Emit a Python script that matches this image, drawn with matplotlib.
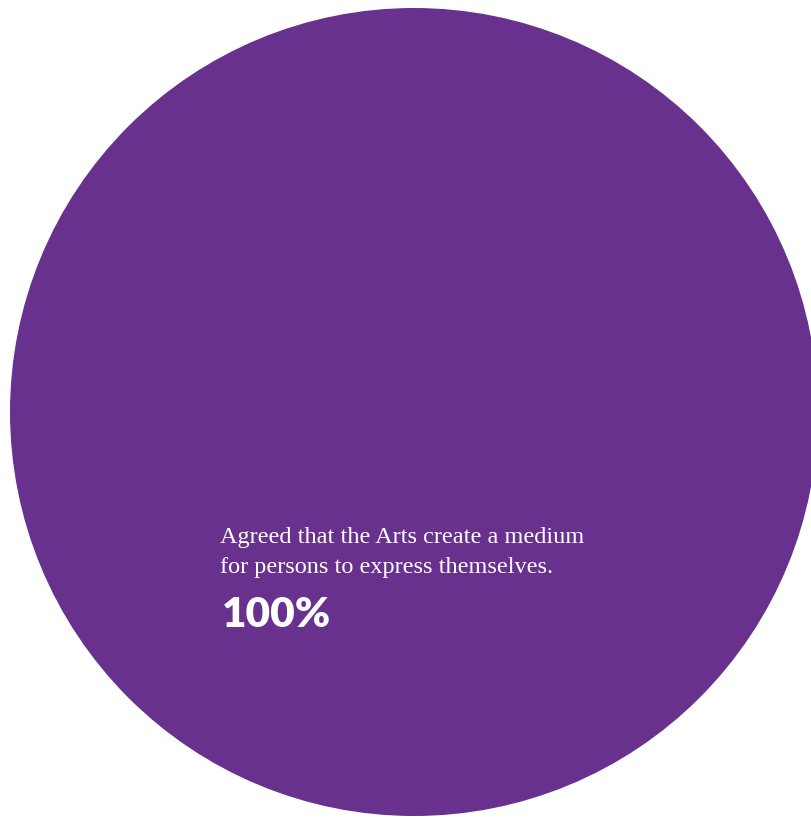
import matplotlib.pyplot as plt
from matplotlib.patches import Circle

# single-stat bubble
label_lines = ["Agreed that the Arts create a medium",
               "for persons to express themselves."]
values = [100]
bubble_color = "#67318d"

fig = plt.figure(figsize=(8.12, 8.19), dpi=100)
ax = fig.add_axes([0, 0, 1, 1])
ax.set_xlim(0, 812)
ax.set_ylim(819, 0)
ax.axis("off")

# circle radius scales with the share (100% -> full size)
r = 404 * (values[0] / 100) ** 0.5
ax.add_patch(Circle((414, 412), r, color=bubble_color, lw=0))

for i, line in enumerate(label_lines):
    ax.text(220, 543 + i * 29.5, line, color="white", fontsize=17.5,
            family="Liberation Serif", ha="left", va="baseline")
ax.text(222, 627, f"{values[0]}%", color="white", fontsize=30.5,
        family="Lato", weight="heavy", ha="left", va="baseline")

fig.savefig("out.png", dpi=100)
